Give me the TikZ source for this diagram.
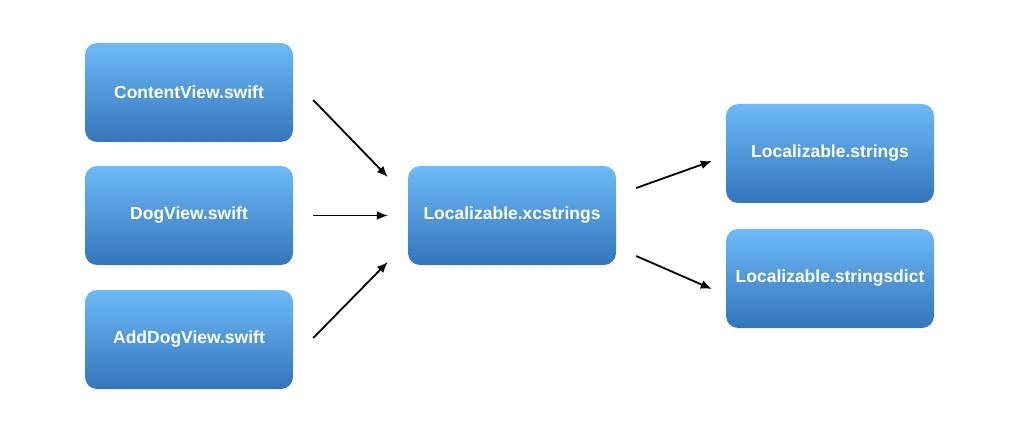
\documentclass[tikz,border=0pt]{standalone}
\usepackage{fontspec}
\setmainfont{Liberation Sans}
\usetikzlibrary{arrows.meta,calc}
\definecolor{boxtop}{RGB}{110,186,246}
\definecolor{boxbottom}{RGB}{52,117,187}
\tikzset{
  filebox/.style={rounded corners=12pt, top color=boxtop, bottom color=boxbottom,
    draw=none, minimum width=208pt, minimum height=99pt, inner sep=0pt,
    text=white, font=\bfseries\fontsize{17.5}{21}\selectfont},
  flow/.style={line width=1.8pt, -{Latex[length=11pt,width=9pt]}}
}
\begin{document}
\begin{tikzpicture}[x=1pt,y=-1pt]
\useasboundingbox (0,0) rectangle (1024,430);
\fill[white] (0,0) rectangle (1024,430);
% source files
\node[filebox] (content) at (189,92.5) {ContentView.swift};
\node[filebox] (dog) at (189,215.5) {DogView.swift};
\node[filebox] (adddog) at (189,339.5) {AddDogView.swift};
% string catalog
\node[filebox] (catalog) at (512,215.5) {Localizable.xcstrings};
% generated outputs
\node[filebox] (strings) at (830,153.5) {Localizable.strings};
\node[filebox] (dict) at (830,278.5) {Localizable.stringsdict};
% connectors
\draw[flow] ($(content.east)+(20,7.5)$) -- ($(catalog.west)+(-20,-38.5)$);
\draw[flow] ($(dog.east)+(20,0)$) -- ($(catalog.west)+(-20,0)$);
\draw[flow] ($(adddog.east)+(20,-1.5)$) -- ($(catalog.west)+(-20,46.5)$);
\draw[flow] ($(catalog.east)+(20,-27.5)$) -- ($(strings.west)+(-14,7.5)$);
\draw[flow] ($(catalog.east)+(20,40.5)$) -- ($(dict.west)+(-14,10.5)$);
\end{tikzpicture}
\end{document}
